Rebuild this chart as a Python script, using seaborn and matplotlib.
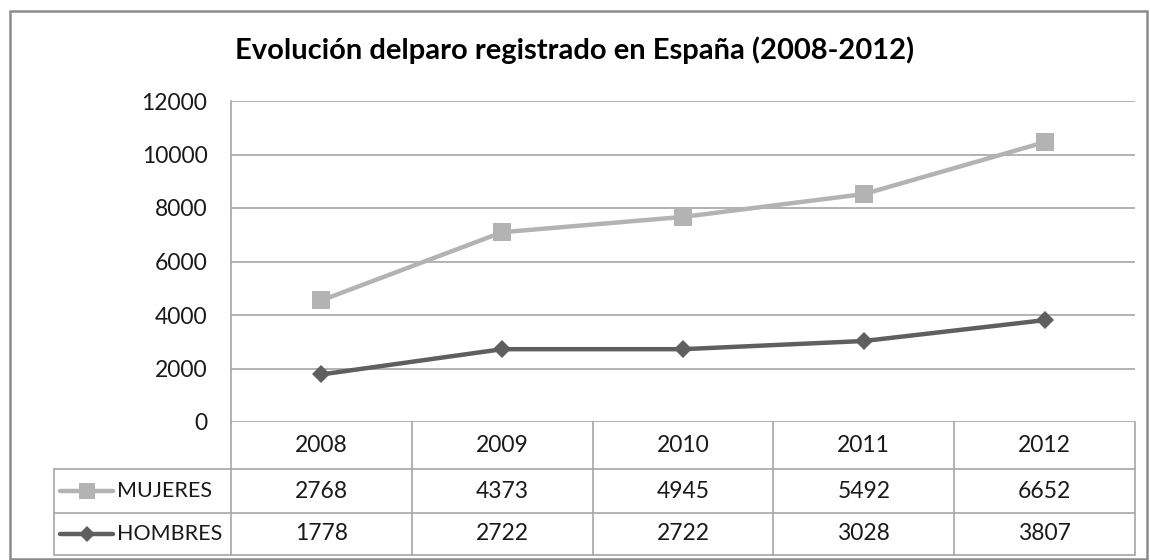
import pandas as pd
import matplotlib.pyplot as plt
import seaborn as sns
from matplotlib.lines import Line2D
from matplotlib.patches import Rectangle
from matplotlib.transforms import blended_transform_factory

# Datos (paro registrado, miles)
anios = ["2008", "2009", "2010", "2011", "2012"]
mujeres = [2768, 4373, 4945, 5492, 6652]
hombres = [1778, 2722, 2722, 3028, 3807]
y_ticks = [0, 2000, 4000, 6000, 8000, 10000, 12000]

titulo = "Evolución delparo registrado en España (2008-2012)"
col_mujeres = "#b3b3b3"
col_hombres = "#5f5f5f"
col_linea = "#a6a6a6"


def plot_paro():
    sns.set_style("white")
    plt.rcParams["font.family"] = ["Lato", "DejaVu Sans"]

    # grafico de lineas apiladas (como Excel): mujeres se suma sobre hombres
    df = pd.DataFrame({
        "pos": range(len(anios)),
        "HOMBRES": hombres,
        "MUJERES": [m + h for m, h in zip(mujeres, hombres)],
    })

    W, H = 1150, 560
    fig = plt.figure(figsize=(W / 100, H / 100), dpi=100)
    x0, x1, y0, y1 = 231, 1135, 422, 101
    ax = fig.add_axes([x0 / W, 1 - y0 / H, (x1 - x0) / W, (y0 - y1) / H])

    sns.lineplot(data=df, x="pos", y="MUJERES", ax=ax, color=col_mujeres,
                 linewidth=3.2, marker="s", markersize=13, markeredgewidth=0, zorder=3)
    sns.lineplot(data=df, x="pos", y="HOMBRES", ax=ax, color=col_hombres,
                 linewidth=3.2, marker="D", markersize=9, markeredgewidth=0, zorder=4)

    ax.set_xlim(-0.5, len(anios) - 0.5)
    ax.set_ylim(0, 12000)
    ax.set_yticks(y_ticks)
    ax.set_yticklabels([str(v) for v in y_ticks], fontsize=16.5, color="#1a1a1a")
    ax.set_xticks([])
    ax.tick_params(axis="y", length=0, pad=17)
    ax.set_xlabel("")
    ax.set_ylabel("")
    ax.grid(axis="y", color=col_linea, linewidth=1.2)
    for s in ["top", "right", "bottom"]:
        ax.spines[s].set_visible(False)
    ax.spines["left"].set_color(col_linea)
    ax.spines["left"].set_linewidth(1.2)

    # tabla de datos bajo el grafico
    ph = y0 - y1
    pw = x1 - x0
    r1 = (y0 - 469) / ph
    r2 = (y0 - 513) / ph
    r3 = (y0 - 555) / ph
    xl = (54 - x0) / pw
    tb = blended_transform_factory(ax.transData, ax.transAxes)
    kw = dict(color=col_linea, linewidth=1.2, clip_on=False)
    for yy in [r1, r2, r3]:
        ax.add_line(Line2D([xl, 1], [yy, yy], transform=ax.transAxes, **kw))
    ax.add_line(Line2D([xl, xl], [r1, r3], transform=ax.transAxes, **kw))
    for i in range(len(anios) + 1):
        xv = i - 0.5
        ax.add_line(Line2D([xv, xv], [0, r3], transform=tb, **kw))

    tk = dict(transform=tb, ha="center", va="center", fontsize=16.5, color="#1a1a1a")
    for i, a in enumerate(anios):
        ax.text(i, r1 / 2, a, **tk)
        ax.text(i, (r1 + r2) / 2, str(mujeres[i]), **tk)
        ax.text(i, (r2 + r3) / 2, str(hombres[i]), **tk)

    # claves de leyenda en la tabla
    kx0 = (60 - x0) / pw
    kx1 = (113 - x0) / pw
    km = (kx0 + kx1) / 2
    for yy, col, mk, ms, lab in [((r1 + r2) / 2, col_mujeres, "s", 11, "MUJERES"),
                                 ((r2 + r3) / 2, col_hombres, "D", 8, "HOMBRES")]:
        ax.add_line(Line2D([kx0, kx1], [yy, yy], transform=ax.transAxes, color=col,
                           linewidth=3.2, clip_on=False))
        ax.add_line(Line2D([km], [yy], transform=ax.transAxes, color=col, marker=mk,
                           markersize=ms, markeredgewidth=0, clip_on=False))
        ax.text((117 - x0) / pw, yy, lab, transform=ax.transAxes, ha="left", va="center",
                fontsize=15.5, color="#1a1a1a")

    fig.text(0.5, 1 - 50 / H, titulo, ha="center", va="center", fontsize=21,
             fontweight="bold", color="#000000")

    # borde del area del grafico
    fig.add_artist(Rectangle((10 / W, 1 - 559 / H), 1137 / W, 548 / H,
                             transform=fig.transFigure, fill=False,
                             edgecolor="#8c8c8c", linewidth=1.8))

    fig.savefig("out.png", dpi=100)


if __name__ == "__main__":
    plot_paro()
